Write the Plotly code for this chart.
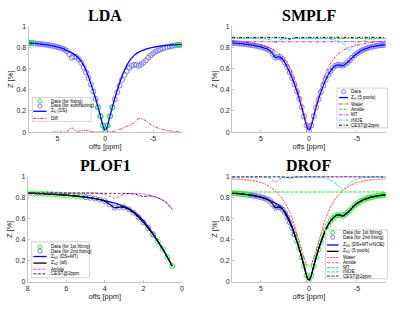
import plotly.graph_objects as go

W, H = 400, 313

# ---------------- data ----------------
OFFS = [8.0, 7.75, 7.5, 7.25, 7.0, 6.75, 6.5, 6.25, 6.0, 5.75, 5.5, 5.25, 5.0, 4.75, 4.5, 4.25,
        4.0, 3.75, 3.5, 3.25, 3.0, 2.75, 2.5, 2.25, 2.0, 1.75, 1.5, 1.25, 1.0, 0.75, 0.5, 0.25,
        0.0, -0.25, -0.5, -0.75, -1.0, -1.25, -1.5, -1.75, -2.0, -2.25, -2.5, -2.75, -3.0, -3.25,
        -3.5, -3.75, -4.0, -4.25, -4.5, -4.75, -5.0, -5.25, -5.5, -5.75, -6.0, -6.25, -6.5, -6.75,
        -7.0, -7.25, -7.5, -7.75, -8.0]

Z_DATA = [0.845, 0.843, 0.841, 0.839, 0.837, 0.834, 0.831, 0.828, 0.825, 0.821, 0.817, 0.812, 0.806, 0.800, 0.792, 0.782,
          0.768, 0.738, 0.705, 0.712, 0.710, 0.690, 0.657, 0.614, 0.566, 0.512, 0.452, 0.386, 0.315, 0.235, 0.150, 0.062,
          0.012, 0.062, 0.150, 0.234, 0.310, 0.378, 0.440, 0.495, 0.541, 0.578, 0.607, 0.627, 0.637, 0.635,
          0.627, 0.640, 0.658, 0.678, 0.704, 0.726, 0.745, 0.760, 0.773, 0.784, 0.793, 0.800, 0.806, 0.811,
          0.816, 0.820, 0.823, 0.826, 0.829]

LDA_FIT = [0.845, 0.843, 0.841, 0.839, 0.837, 0.834, 0.831, 0.828, 0.825, 0.821, 0.817, 0.812, 0.806, 0.800, 0.792, 0.783,
           0.772, 0.762, 0.750, 0.736, 0.719, 0.697, 0.668, 0.630, 0.583, 0.525, 0.458, 0.388, 0.315, 0.235, 0.150, 0.062,
           0.012, 0.064, 0.154, 0.240, 0.320, 0.395, 0.465, 0.528, 0.585, 0.632, 0.670, 0.700, 0.724, 0.743,
           0.757, 0.768, 0.777, 0.785, 0.792, 0.798, 0.803, 0.808, 0.812, 0.815, 0.818, 0.820, 0.822, 0.824,
           0.825, 0.826, 0.827, 0.828, 0.829]

DIFF_X = [5.5, 5.25, 5.0, 4.75, 4.5, 4.25, 4.0, 3.75, 3.5, 3.25, 3.0, 2.75, 2.5, 2.25, 2.0, 1.75, 1.5, 1.25,
          1.0, 0.75, 0.5, 0.25, 0.0, -0.25, -0.5, -0.75, -1.0, -1.25, -1.5, -1.75, -2.0, -2.25, -2.5, -2.75,
          -3.0, -3.25, -3.5, -3.75, -4.0, -4.25, -4.5, -4.75, -5.0, -5.25, -5.5, -5.75, -6.0, -6.25, -6.5,
          -6.75, -7.0, -7.25, -7.5, -7.75, -8.0]
DIFF = [0.0, 0.0, 0.0, 0.0, 0.0, 0.001, 0.004, 0.024, 0.045, 0.024, 0.009, 0.007, 0.011, 0.016, 0.017, 0.013, 0.006, 0.002,
        0.0, 0.0, 0.0, 0.0, 0.0, 0.002, 0.004, 0.006, 0.010, 0.017, 0.025, 0.033, 0.044, 0.054, 0.063, 0.073,
        0.087, 0.108, 0.130, 0.128, 0.119, 0.107, 0.088, 0.072, 0.058, 0.048, 0.039, 0.031, 0.025, 0.020, 0.016,
        0.013, 0.009, 0.006, 0.004, 0.002, 0.0]

WATER_X = [8, 7, 6, 5, 4.5, 4, 3.5, 3, 2.5, 2, 1.75, 1.5, 1.25, 1, 0.75, 0.5, 0.25, 0,
           -0.25, -0.5, -0.75, -1, -1.25, -1.5, -1.75, -2, -2.5, -3, -3.5, -4, -4.5, -5, -6, -7, -8]
SM_WATER = [0.863, 0.855, 0.842, 0.822, 0.810, 0.795, 0.770, 0.735, 0.685, 0.610, 0.560, 0.500, 0.425, 0.345, 0.255, 0.165, 0.080, 0.045,
            0.080, 0.165, 0.255, 0.345, 0.425, 0.500, 0.560, 0.610, 0.685, 0.735, 0.770, 0.795, 0.810, 0.822, 0.842, 0.855, 0.863]
SM_AMIDE_X = [8, 5, 4.5, 4.25, 4, 3.75, 3.5, 3.25, 3, 2.75, 2.5, 2, -8]
SM_AMIDE = [0.886, 0.885, 0.883, 0.879, 0.872, 0.858, 0.842, 0.858, 0.872, 0.879, 0.883, 0.885, 0.886]
SM_MT_X = [8, 4, 0, -4, -8]
SM_MT = [0.857, 0.856, 0.855, 0.856, 0.857]
SM_RNOE_X = [8, 0, -1, -1.5, -2, -2.5, -3, -3.5, -3.75, -4, -4.25, -4.5, -4.75, -5, -5.5, -6, -6.5, -7, -8]
SM_RNOE = [0.889, 0.888, 0.887, 0.885, 0.881, 0.874, 0.862, 0.842, 0.825, 0.800, 0.768, 0.800, 0.825, 0.842, 0.862, 0.874, 0.880, 0.884, 0.887]
CEST2_X = [8, 3, 2.5, 2.25, 2, 1.75, 1.5, 1, -8]
SM_CEST2 = [0.897, 0.896, 0.893, 0.887, 0.880, 0.887, 0.893, 0.896, 0.897]

PLOF_X = [8, 7, 6, 5, 4.5, 4.25, 4, 3.75, 3.5, 3.25, 3, 2.75, 2.5, 2.25, 2, 1.75, 1.5, 1.25, 1, 0.75, 0.5]
PLOF_AMIDE = [0.846, 0.846, 0.845, 0.845, 0.844, 0.840, 0.832, 0.815, 0.795, 0.815, 0.835, 0.841, 0.842, 0.840, 0.836, 0.828, 0.815, 0.800, 0.778, 0.745, 0.690]
PLOF_CEST2 = [0.846, 0.846, 0.845, 0.845, 0.844, 0.843, 0.843, 0.842, 0.842, 0.842, 0.842, 0.840, 0.836, 0.826, 0.812, 0.818, 0.815, 0.800, 0.778, 0.745, 0.690]

DR_WATER = [0.980, 0.975, 0.965, 0.945, 0.927, 0.900, 0.865, 0.820, 0.755, 0.665, 0.605, 0.535, 0.455, 0.375, 0.300, 0.225, 0.170, 0.150,
            0.170, 0.225, 0.300, 0.375, 0.455, 0.535, 0.605, 0.665, 0.755, 0.820, 0.865, 0.900, 0.927, 0.945, 0.965, 0.975, 0.980]
DR_AMIDE_X = [8, 4.5, 4.25, 4, 3.75, 3.5, 3.25, 3, 2.75, 2.5, -8]
DR_AMIDE = [0.998, 0.996, 0.992, 0.982, 0.965, 0.945, 0.965, 0.982, 0.992, 0.996, 0.998]
DR_MT_X = [8, 0, -8]
DR_MT = [0.856, 0.855, 0.856]
DR_RNOE_X = [8, 0, -1, -1.5, -2, -2.5, -3, -3.25, -3.5, -3.75, -4, -4.5, -5, -5.5, -6, -7, -8]
DR_RNOE = [0.999, 0.998, 0.996, 0.990, 0.978, 0.955, 0.920, 0.895, 0.872, 0.895, 0.920, 0.955, 0.978, 0.990, 0.995, 0.998, 0.999]
DR_CEST2 = [1.0, 1.0, 0.997, 0.992, 0.986, 0.992, 0.997, 1.0, 1.0]

Y_TICKS = [0, 0.2, 0.4, 0.6, 0.8, 1]
Y_TICKTEXT = ["0", "0.2", "0.4", "0.6", "0.8", "1"]
X_TICKS_FULL = [5, 0, -5]
X_TICKS_PLOF = [8, 6, 4, 2, 0]

# ---------------- styles ----------------
BLUE_C = "#6e6eff"
GREEN_C = "#19f019"
FONT = "Liberation Sans"
SERIF = "Liberation Serif"
AXC = "#262626"
DASHDOT = "3px,1.5px,1px,1.5px"
DASH = "3px,1.5px"


def sub(xs, ys, keep):
    pairs = [(x, y) for x, y in zip(xs, ys) if keep(x)]
    return [p[0] for p in pairs], [p[1] for p in pairs]


fig = go.Figure()


def circles(xa, ya, xs, ys, color, size=5):
    fig.add_trace(go.Scatter(x=xs, y=ys, xaxis=xa, yaxis=ya, mode="markers",
                             marker=dict(symbol="circle-open", size=size, color=color, line=dict(width=0.9, color=color)),
                             showlegend=False, hoverinfo="skip"))


def line(xa, ya, xs, ys, color, width=1.0, dash="solid", shape="spline"):
    fig.add_trace(go.Scatter(x=xs, y=ys, xaxis=xa, yaxis=ya, mode="lines",
                             line=dict(color=color, width=width, dash=dash, shape=shape, smoothing=0.6),
                             showlegend=False, hoverinfo="skip"))


# --- LDA (x, y)
circles("x", "y", OFFS, Z_DATA, BLUE_C)
gx, gy = sub(OFFS, Z_DATA, lambda o: abs(o) >= 7.5 or abs(o) <= 0.75)
circles("x", "y", gx, gy, GREEN_C)
line("x", "y", OFFS, LDA_FIT, "#0000ff", 1.3)
line("x", "y", DIFF_X, DIFF, "#ff2020", 1.0, DASHDOT)

# --- SMPLF (x2, y2)
circles("x2", "y2", OFFS, Z_DATA, BLUE_C)
line("x2", "y2", OFFS, Z_DATA, "#0000ff", 1.3)
line("x2", "y2", WATER_X, SM_WATER, "#ff2020", 1.0, DASHDOT)
line("x2", "y2", SM_AMIDE_X, SM_AMIDE, "#22cc22", 1.0, DASH)
line("x2", "y2", SM_MT_X, SM_MT, "#ff00ff", 1.0, DASHDOT)
line("x2", "y2", SM_RNOE_X, SM_RNOE, "#00e5e5", 1.0, DASHDOT)
line("x2", "y2", CEST2_X, SM_CEST2, "#000000", 1.0, DASHDOT)

# --- PLOF1 (x3, y3)
px_, pz_ = sub(OFFS, Z_DATA, lambda o: o >= 0.5)
pf_x, pf_y = sub(OFFS, LDA_FIT, lambda o: o >= 0.5)
g1x, g1y = sub(px_, pz_, lambda o: o >= 5 or o <= 1.5)
b1x, b1y = sub(px_, pz_, lambda o: 1.5 <= o <= 5)
circles("x3", "y3", g1x, g1y, GREEN_C)
circles("x3", "y3", b1x, b1y, BLUE_C)
line("x3", "y3", pf_x, pf_y, "#0000ff", 1.3)
line("x3", "y3", px_, pz_, "#000000", 1.3)
line("x3", "y3", PLOF_X, PLOF_AMIDE, "#ff40ff", 1.0, DASH)
line("x3", "y3", PLOF_X, PLOF_CEST2, "#000000", 0.8, DASH)

# --- DROF (x4, y4)
g2x, g2y = sub(OFFS, Z_DATA, lambda o: o >= 6 or o <= 1.5)
b2x, b2y = sub(OFFS, Z_DATA, lambda o: 1.5 <= o <= 6)
dr_fit1 = [f if o > 0 else d for o, f, d in zip(OFFS, LDA_FIT, Z_DATA)]
circles("x4", "y4", g2x, g2y, GREEN_C)
circles("x4", "y4", b2x, b2y, BLUE_C)
line("x4", "y4", OFFS, dr_fit1, "#0000ff", 1.3)
line("x4", "y4", OFFS, Z_DATA, "#000000", 1.3)
line("x4", "y4", WATER_X, DR_WATER, "#ff3030", 0.9, "2px,1px")
line("x4", "y4", DR_AMIDE_X, DR_AMIDE, "#ff40ff", 1.0, DASH)
line("x4", "y4", DR_MT_X, DR_MT, "#22dd22", 1.0, DASH)
line("x4", "y4", DR_RNOE_X, DR_RNOE, "#00e5e5", 1.0, DASH)
line("x4", "y4", CEST2_X, DR_CEST2, "#000000", 0.8, DASH)

# ---------------- axes ----------------
def pxp(x):
    return x / W


def pyp(y):
    return 1 - y / H


PANELS = [
    ("", (26.9, 181.7), (23.0, 131.0), [8, -8], X_TICKS_FULL, "LDA"),
    ("2", (232.4, 387.6), (23.0, 131.0), [8, -8], X_TICKS_FULL, "SMPLF"),
    ("3", (26.0, 181.7), (176.7, 284.3), [8, 0], X_TICKS_PLOF, "PLOF1"),
    ("4", (232.4, 387.6), (176.2, 284.3), [8, -8], X_TICKS_FULL, "DROF"),
]

annotations = []
shapes = []
AXT = dict(family=FONT, size=7.5, color=AXC)
for suf, (x0, x1), (ytop, ybot), xr, xt, title in PANELS:
    yr = [0, 1.005] if suf == "4" else [0, 1]
    fig.update_layout(**{
        "xaxis" + suf: dict(domain=[pxp(x0), pxp(x1)], range=xr, anchor="y" + suf,
                            tickvals=xt, ticktext=[str(v) for v in xt],
                            showline=True, linecolor="#c4c4c4", linewidth=1, mirror=False,
                            ticks="inside", ticklen=2, tickcolor="#c4c4c4", showgrid=False, zeroline=False,
                            tickfont=dict(family=FONT, size=7, color=AXC),
                            title=dict(text="offs [ppm]", font=AXT, standoff=1)),
        "yaxis" + suf: dict(domain=[pyp(ybot), pyp(ytop)], range=yr, anchor="x" + suf,
                            tickvals=Y_TICKS, ticktext=Y_TICKTEXT,
                            showline=True, linecolor="#c4c4c4", linewidth=1,
                            ticks="inside", ticklen=2, tickcolor="#c4c4c4", showgrid=False, zeroline=False,
                            tickfont=dict(family=FONT, size=7, color=AXC),
                            title=dict(text="Z [%]", font=AXT, standoff=1)),
    })
    cxp = 104.3 if suf in ("", "3") else 310
    annotations.append(dict(text="<b>%s</b>" % title, x=pxp(cxp), y=pyp(ytop - 11),
                            xref="paper", yref="paper", showarrow=False,
                            font=dict(family=SERIF, size=16, color="#000000"), xanchor="center", yanchor="middle"))

# ---------------- legends (drawn by hand on a pixel overlay axis) ----------------
fig.update_layout(
    xaxis5=dict(domain=[0, 1], range=[0, W], visible=False, fixedrange=True, anchor="y5"),
    yaxis5=dict(domain=[0, 1], range=[H, 0], visible=False, fixedrange=True, anchor="x5"),
)
LEG_FONT = dict(family=FONT, size=4.6, color="#000000")


def legend(box, sym_x0, sym_x1, text_x, rows):
    bx0, by0, bx1, by1 = box
    shapes.append(dict(type="rect", xref="x5", yref="y5", x0=bx0, x1=bx1, y0=by0, y1=by1,
                       line=dict(color="#c8c8c8", width=0.8), fillcolor="white", layer="below"))
    cxs = (sym_x0 + sym_x1) / 2
    for (y, kind, color, dash, width, text) in rows:
        if kind == "circle":
            circles("x5", "y5", [cxs], [y], color, size=4)
        else:
            fig.add_trace(go.Scatter(x=[sym_x0, sym_x1], y=[y, y], xaxis="x5", yaxis="y5", mode="lines",
                                     line=dict(color=color, width=width, dash=dash),
                                     showlegend=False, hoverinfo="skip"))
        annotations.append(dict(text=text, x=text_x, y=y, xref="x5", yref="y5", showarrow=False,
                                xanchor="left", yanchor="middle", font=LEG_FONT))


legend((30.7, 95.7, 90.0, 120.0), 31.7, 45.0, 47.0, [
    (99.3, "circle", GREEN_C, None, 1, "Data (for fitting)"),
    (104.3, "circle", BLUE_C, None, 1, "Data (for subtracting)"),
    (109.7, "line", "#0000ff", "solid", 1.3, "Z<sub>fit</sub> (DS)"),
    (117.0, "line", "#ff2020", DASHDOT, 1.0, "Diff"),
])

legend((338.3, 86.0, 389.3, 126.7), 340.5, 349.5, 351.0, [
    (89.7, "circle", BLUE_C, None, 1, "Data"),
    (95.7, "line", "#0000ff", "solid", 1.3, "Z<sub>fit</sub> (5 pools)"),
    (102.3, "line", "#ff2020", DASHDOT, 1.0, "Water"),
    (107.7, "line", "#22cc22", DASH, 1.0, "Amide"),
    (113.3, "line", "#ff00ff", DASHDOT, 1.0, "MT"),
    (118.7, "line", "#00e5e5", DASHDOT, 1.0, "rNOE"),
    (124.0, "line", "#000000", DASHDOT, 1.0, "CEST@2ppm"),
])

legend((30.0, 243.3, 88.3, 280.0), 31.7, 45.0, 47.0, [
    (248.3, "circle", GREEN_C, None, 1, "Data (for 1st fitting)"),
    (252.7, "circle", BLUE_C, None, 1, "Data (for 2nd fitting)"),
    (258.3, "line", "#0000ff", "solid", 1.3, "Z<sub>fit1</sub> (DS+MT)"),
    (265.0, "line", "#000000", "solid", 1.3, "Z<sub>fit2</sub> (all)"),
    (271.3, "line", "#ff40ff", DASH, 1.0, "Amide"),
    (276.0, "line", "#000000", DASH, 0.8, "CEST@2ppm"),
])

legend((326.7, 231.0, 389.3, 281.0), 328.3, 340.0, 342.0, [
    (233.8, "circle", GREEN_C, None, 1, "Data (for 1st fitting)"),
    (238.7, "circle", BLUE_C, None, 1, "Data (for 2nd fitting)"),
    (246.5, "line", "#0000ff", "solid", 1.3, "Z<sub>fit1</sub> (DS+MT+rNOE)"),
    (253.0, "line", "#000000", "solid", 1.3, "Z<sub>fit2</sub> (5 pools)"),
    (259.3, "line", "#ff3030", "2px,1px", 0.9, "Water"),
    (264.7, "line", "#ff40ff", DASH, 1.0, "Amide"),
    (269.7, "line", "#22dd22", DASH, 1.0, "MT"),
    (274.0, "line", "#00e5e5", DASH, 1.0, "rNOE"),
    (278.3, "line", "#000000", DASH, 0.8, "CEST@2ppm"),
])

fig.update_layout(width=W, height=H, margin=dict(l=0, r=0, t=0, b=0),
                  paper_bgcolor="white", plot_bgcolor="rgba(0,0,0,0)", showlegend=False,
                  annotations=annotations, shapes=shapes)

fig.write_html("out.html", config={"displayModeBar": False},
               post_script="document.body.style.margin='0px';document.body.style.overflow='hidden';")
